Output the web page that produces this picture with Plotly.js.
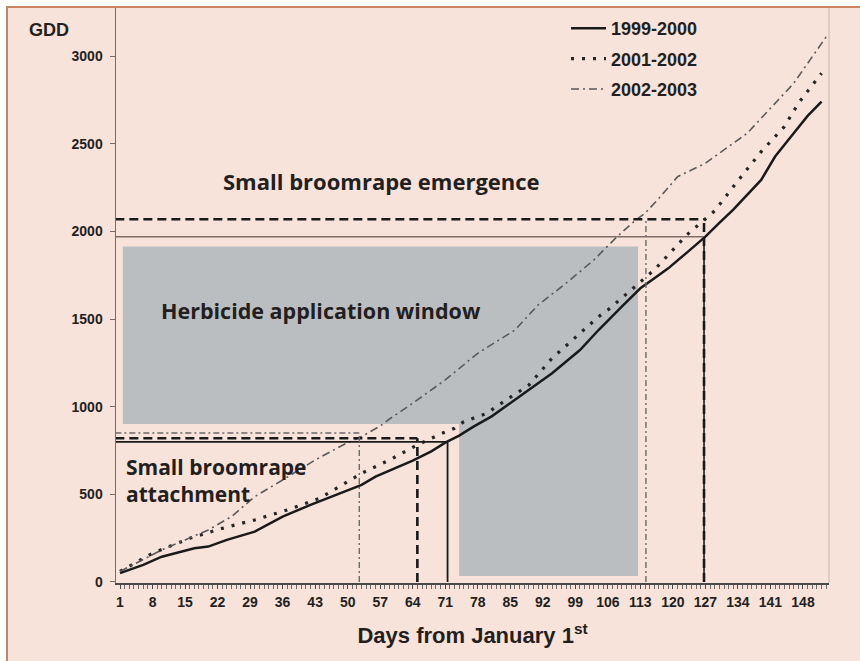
<!DOCTYPE html>
<html><head><meta charset="utf-8">
<script src="https://cdn.plot.ly/plotly-3.0.1.min.js"></script>
<style>
html,body{margin:0;padding:0;background:#fff;width:860px;height:661px;overflow:hidden}
#frame{position:absolute;left:6px;top:6px;width:852px;height:653px;border-left:2px solid #c98560;border-top:2px solid #c98560;background:#f7e3da}
#chart{width:852px;height:653px}
</style></head><body><div id="frame"><div id="chart"></div></div>
<script>
// ---- data ----
const seriesNames = ["1999-2000", "2001-2002", "2002-2003"];

const days1999 = [1, 6, 10, 17, 20, 24, 30, 32, 36, 42, 49, 53, 56, 61, 64, 68, 71, 74, 77, 81, 87, 94, 100, 104, 109, 113, 117, 119, 123, 127, 130, 133, 139, 142, 146, 149, 152];
const gdd1999  = [50, 97, 144, 192, 202, 240, 287, 316, 373, 440, 515, 554, 601, 658, 692, 745, 795, 835, 885, 945, 1058, 1191, 1324, 1438, 1571, 1676, 1752, 1790, 1880, 1971, 2050, 2125, 2295, 2428, 2561, 2660, 2741];

const days2001 = [1, 8, 16, 23, 30, 37, 44, 48, 53, 59, 63, 65, 70, 73, 75, 80, 82, 89, 94, 100, 104, 106, 112, 116, 123, 129, 134, 139, 144, 147, 152];
const gdd2001  = [60, 164, 249, 306, 354, 411, 478, 540, 620, 696, 753, 782, 845, 877, 915, 963, 1001, 1124, 1277, 1420, 1514, 1552, 1686, 1781, 1981, 2118, 2290, 2456, 2599, 2732, 2904];

const days2002 = [1, 10, 15, 20, 25, 30, 36, 43, 49, 53, 57, 59, 64, 71, 78, 86, 91, 97, 103, 108, 112, 114, 117, 121, 127, 132, 136, 140, 146, 153];
const gdd2002  = [60, 183, 240, 297, 373, 487, 582, 696, 782, 830, 890, 930, 1020, 1153, 1305, 1438, 1581, 1705, 1838, 1971, 2066, 2104, 2190, 2313, 2390, 2485, 2561, 2675, 2846, 3112];

// thresholds (per season: 1999-2000, 2001-2002, 2002-2003)
const attachmentDay = [71.5, 65, 52.5];
const attachmentGDD = [800, 820, 850];
const emergenceDay  = [126.7, 126.7, 114.2];
const emergenceGDD  = [1970, 2070, 2070];

// herbicide application window (two blocks)
const windowStartDay = [1.6, 74];
const windowEndDay   = [112.5, 112.5];
const windowLowGDD   = [902, 34];
const windowHighGDD  = [1914, 902];

const xTickDays = [1, 8, 15, 22, 29, 36, 43, 50, 57, 64, 71, 78, 85, 92, 99, 106, 113, 120, 127, 134, 141, 148];
const yTickVals = [0, 500, 1000, 1500, 2000, 2500, 3000];

// ---- layout helpers (page px -> paper) ----
const L = 108, R = 31, T = 0, B = 78, W = 852, H = 653;
const PW = W - L - R, PH = H - T - B;
const px = X => (X - 8 - L) / PW;
const py = Y => 1 - (Y - 8 - T) / PH;

const arialish = '"Liberation Sans", Arial, sans-serif';
const humanist = '"Open Sans", "Noto Sans", sans-serif';
const ink = '#231f20';

const traces = [
  {x: days1999, y: gdd1999, name: seriesNames[0], mode: 'lines', legendgroup: 'a',
   line: {color: '#1a1a1a', width: 2.5}},
  {x: days2001, y: gdd2001, name: seriesNames[1], mode: 'lines', legendgroup: 'b',
   line: {color: '#262626', width: 3.2, dash: '3px,8px'}},
  {x: days2002, y: gdd2002, name: seriesNames[2], mode: 'lines', legendgroup: 'c',
   line: {color: '#5a5a5a', width: 1.6, dash: '8px,4px,2px,4px'}}
];

const shapes = [];
// herbicide window
for (let i = 0; i < windowStartDay.length; i++) {
  shapes.push({type: 'rect', xref: 'x', yref: 'y', layer: 'below',
    x0: windowStartDay[i], x1: windowEndDay[i], y0: windowLowGDD[i], y1: windowHighGDD[i],
    fillcolor: '#bbbec1', line: {width: 0}});
}
const sty = [
  {color: '#1a1a1a', width: 1.8, dash: 'solid'},
  {color: '#1a1a1a', width: 2.6, dash: '9px,5px'},
  {color: '#6a6a6a', width: 1.4, dash: '6px,3px,2px,3px'}
];
// attachment lines
for (let i = 0; i < 3; i++) {
  shapes.push({type: 'line', xref: 'x', yref: 'y', x0: 0, x1: attachmentDay[i], y0: attachmentGDD[i], y1: attachmentGDD[i], line: sty[i]});
  shapes.push({type: 'line', xref: 'x', yref: 'y', x0: attachmentDay[i], x1: attachmentDay[i], y0: 0, y1: attachmentGDD[i], line: sty[i]});
}
// emergence lines
shapes.push({type: 'line', xref: 'x', yref: 'y', x0: emergenceDay[1], x1: emergenceDay[1], y0: 0, y1: emergenceGDD[1], line: sty[1]});
shapes.push({type: 'line', xref: 'x', yref: 'y', x0: 0, x1: emergenceDay[1], y0: emergenceGDD[1], y1: emergenceGDD[1], line: sty[1]});
shapes.push({type: 'line', xref: 'x', yref: 'y', x0: 0, x1: emergenceDay[0], y0: emergenceGDD[0], y1: emergenceGDD[0], line: {color: '#7d6d66', width: 1.5}});
shapes.push({type: 'line', xref: 'x', yref: 'y', x0: emergenceDay[0], x1: emergenceDay[0], y0: 0, y1: emergenceGDD[0], line: {color: '#1a1a1a', width: 1.6}});
shapes.push({type: 'line', xref: 'x', yref: 'y', x0: emergenceDay[2], x1: emergenceDay[2], y0: 0, y1: emergenceGDD[2], line: sty[2]});
// right frame line
shapes.push({type: 'line', xref: 'paper', yref: 'paper', x0: 1, x1: 1, y0: 0, y1: 1, line: {color: '#cdbdb4', width: 1.2}});

const annotations = [
  {text: 'GDD', xref: 'paper', yref: 'paper', x: px(27), y: py(30.5), xanchor: 'left', yanchor: 'middle', showarrow: false,
   font: {family: arialish, size: 18, weight: 'bold', color: ink}},
  {text: 'Small broomrape emergence', xref: 'paper', yref: 'paper', x: px(221), y: py(181), xanchor: 'left', yanchor: 'middle', showarrow: false,
   font: {family: humanist, size: 22, weight: 'bold', color: ink}},
  {text: 'Herbicide application window', xref: 'paper', yref: 'paper', x: px(159), y: py(310), xanchor: 'left', yanchor: 'middle', showarrow: false,
   font: {family: humanist, size: 21.5, weight: 'bold', color: ink}},
  {text: 'Small broomrape<br>attachment', xref: 'paper', yref: 'paper', x: px(124), y: py(480), xanchor: 'left', yanchor: 'middle', align: 'left', showarrow: false,
   font: {family: humanist, size: 21, weight: 'bold', color: ink}}
];

const layout = {
  width: W, height: H,
  margin: {l: L, r: R, t: T, b: B, pad: 0},
  paper_bgcolor: 'rgba(0,0,0,0)', plot_bgcolor: 'rgba(0,0,0,0)',
  showlegend: true,
  legend: {x: px(566), y: py(10), xanchor: 'left', yanchor: 'top', bgcolor: 'rgba(0,0,0,0)',
    font: {family: arialish, size: 18, weight: 'bold', color: ink}, itemwidth: 35, tracegroupgap: 4, traceorder: 'grouped'},
  xaxis: {range: [0.14, 153.6], tickvals: xTickDays, ticktext: xTickDays.map(String),
    showgrid: false, zeroline: false, showline: true, linecolor: '#4a4a4a', linewidth: 1.5,
    ticks: 'outside', ticklen: 4, tickcolor: '#4a4a4a', tickwidth: 1, ticklabelstandoff: 2,
    minor: {dtick: 1, tick0: 1, ticks: 'outside', ticklen: 4, tickcolor: '#6a6a6a', tickwidth: 1},
    tickfont: {family: arialish, size: 14, weight: 'bold', color: ink},
    title: {text: 'Days from January 1<sup>st</sup>', standoff: 18, font: {family: arialish, size: 22, weight: 'bold', color: ink}}},
  yaxis: {range: [-6, 3276], tickvals: yTickVals, ticktext: yTickVals.map(String),
    showgrid: false, zeroline: false, showline: true, linecolor: '#7b6b63', linewidth: 1.5,
    ticks: 'outside', ticklen: 5, tickcolor: '#7b6b63', ticklabelstandoff: 4,
    tickfont: {family: arialish, size: 14, weight: 'bold', color: ink}},
  shapes: shapes,
  annotations: annotations
};

Plotly.newPlot('chart', traces, layout, {staticPlot: true, displayModeBar: false});
</script></body></html>
